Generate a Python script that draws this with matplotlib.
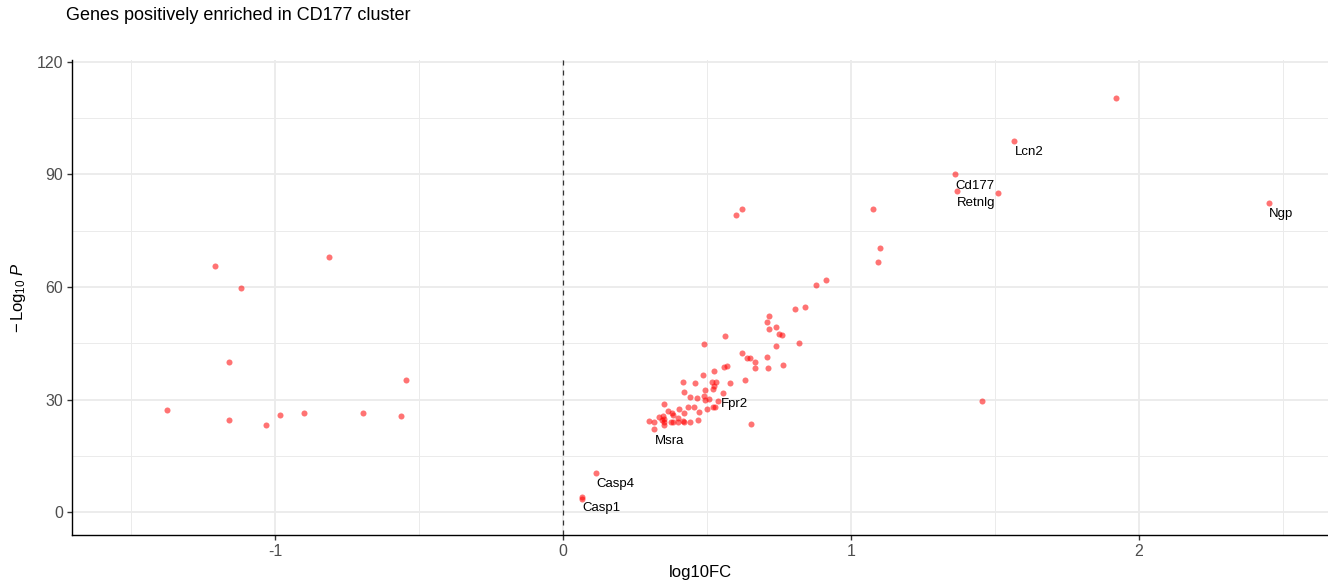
import numpy as np

import matplotlib
matplotlib.use('Agg')
import matplotlib.pyplot as plt
from matplotlib.ticker import MultipleLocator

# Fonts - Arial-like look, plain hyphen as minus (as in the reference)
plt.rcParams['font.family'] = ['Liberation Sans', 'DejaVu Sans']
plt.rcParams['mathtext.fontset'] = 'custom'
plt.rcParams['mathtext.rm'] = 'Liberation Sans'
plt.rcParams['mathtext.it'] = 'Liberation Sans:italic'
plt.rcParams['axes.unicode_minus'] = False

# ── Data ─────────────────────────────────────────────────────────
log10fc = [
    # left side (negative fold change)
    -1.208, -1.120, -0.813, -1.160, -0.544, -1.377, -1.159, -1.033,
    -0.983, -0.901, -0.695, -0.564,
    # upper right
    1.922, 1.567, 1.363, 1.368, 1.511, 2.452, 1.456,
    1.077, 0.601, 0.622, 1.101, 1.094,
    # middle of the cloud
    0.913, 0.879, 0.841, 0.807, 0.717, 0.710, 0.716, 0.739, 0.751, 0.760,
    0.562, 0.491, 0.739, 0.820, 0.621, 0.638, 0.650, 0.710,
    # dense lower part
    0.667, 0.668, 0.713, 0.765, 0.560, 0.571, 0.525, 0.486, 0.633, 0.416,
    0.459, 0.518, 0.532, 0.580, 0.523, 0.522, 0.492, 0.421, 0.556, 0.441,
    0.467, 0.489, 0.493, 0.508, 0.537, 0.352, 0.403, 0.433, 0.454, 0.500,
    0.522, 0.528, 0.364, 0.379, 0.381, 0.471, 0.419, 0.332, 0.347, 0.401,
    0.343, 0.351, 0.298, 0.316, 0.352, 0.352, 0.375, 0.383, 0.401, 0.417,
    0.420, 0.441, 0.469, 0.317, 0.654,
    # near zero
    0.115, 0.067, 0.067,
]
neg_log10p = [
    65.5, 59.6, 67.9, 39.9, 35.1, 27.2, 24.5, 23.2,
    25.8, 26.4, 26.4, 25.6,
    110.3, 98.9, 90.0, 85.5, 85.0, 82.5, 29.6,
    80.7, 79.1, 80.7, 70.3, 66.6,
    61.9, 60.4, 54.8, 54.2, 52.3, 50.8, 48.8, 49.3, 47.5, 47.1,
    46.9, 44.8, 44.4, 45.0, 42.5, 41.0, 41.0, 41.4,
    39.9, 38.3, 38.3, 39.1, 38.6, 38.9, 37.6, 36.6, 35.3, 34.6,
    34.5, 34.7, 34.6, 34.3, 33.5, 32.7, 32.6, 31.9, 31.7, 30.6,
    30.4, 31.0, 29.8, 30.1, 29.5, 28.8, 27.6, 28.1, 27.9, 27.6,
    27.9, 28.0, 27.0, 26.3, 26.0, 26.8, 26.3, 25.4, 25.6, 25.1,
    24.5, 24.7, 24.2, 24.0, 23.9, 23.3, 23.9, 23.9, 24.0, 24.3,
    23.9, 24.0, 24.5, 22.1, 23.5,
    10.5, 4.1, 3.6,
]

# labelled genes
geny = ['Lcn2', 'Cd177', 'Retnlg', 'Ngp', 'Fpr2', 'Msra', 'Casp4', 'Casp1']
geny_x = [1.567, 1.363, 1.368, 2.452, 0.522, 0.317, 0.115, 0.067]
geny_y = [98.9, 90.0, 85.5, 82.5, 27.9, 22.1, 10.5, 4.1]

KOLOR_PKT = '#ff0000'
KOLOR_SIATKA = '#ebebeb'
KOLOR_TEKST = '#4d4d4d'

# ── Figure ───────────────────────────────────────────────────────
fig = plt.figure(figsize=(13.28, 5.86), dpi=100)
ax = fig.add_axes([72 / 1328, 51 / 586, 1 - 72 / 1328, (535 - 60) / 586])

ax.scatter(log10fc, neg_log10p, s=19, color=KOLOR_PKT, alpha=0.55,
           linewidths=0, zorder=3)

ax.axvline(0, color='#333333', linewidth=0.9, linestyle=(0, (4, 4)), zorder=2)

# labels below-right of the point (Fpr2 sits to the right)
for nazwa, gx, gy in zip(geny, geny_x, geny_y):
    if nazwa == 'Fpr2':
        przes = (5.5, 2.5)
    else:
        przes = (0.3, -8.2)
    ax.annotate(nazwa, xy=(gx, gy), xytext=przes, textcoords='offset points',
                ha='left', va='center', fontsize=9.5, color='black', zorder=4)

# ── Axes, grid ───────────────────────────────────────────────────
ax.set_xlim(-1.706, 2.658)
ax.set_ylim(-6.1, 120.5)

ax.xaxis.set_major_locator(MultipleLocator(1))
ax.xaxis.set_minor_locator(MultipleLocator(0.5))
ax.yaxis.set_major_locator(MultipleLocator(30))
ax.yaxis.set_minor_locator(MultipleLocator(15))

ax.grid(True, which='major', color=KOLOR_SIATKA, linewidth=1.3, zorder=0)
ax.grid(True, which='minor', color=KOLOR_SIATKA, linewidth=0.7, zorder=0)
ax.set_axisbelow(True)

for strona in ['top', 'right']:
    ax.spines[strona].set_visible(False)
for strona in ['left', 'bottom']:
    ax.spines[strona].set_linewidth(1.0)
    ax.spines[strona].set_color('black')

ax.tick_params(which='major', length=3.6, width=1.0, color='#333333',
               labelsize=11.5, labelcolor=KOLOR_TEKST, pad=3)
ax.tick_params(which='minor', length=0)

ax.set_xlabel('log10FC', fontsize=12, color='black', labelpad=4)
ax.set_ylabel(r'$-\,\mathrm{Log}_{10}\ \mathit{P}$', fontsize=12,
              color='black', labelpad=6)

fig.text(66 / 1328, 1 - 16 / 586, 'Genes positively enriched in CD177 cluster',
         fontsize=13, color='black', ha='left', va='center')

fig.savefig('out.png', dpi=100)
plt.close(fig)
